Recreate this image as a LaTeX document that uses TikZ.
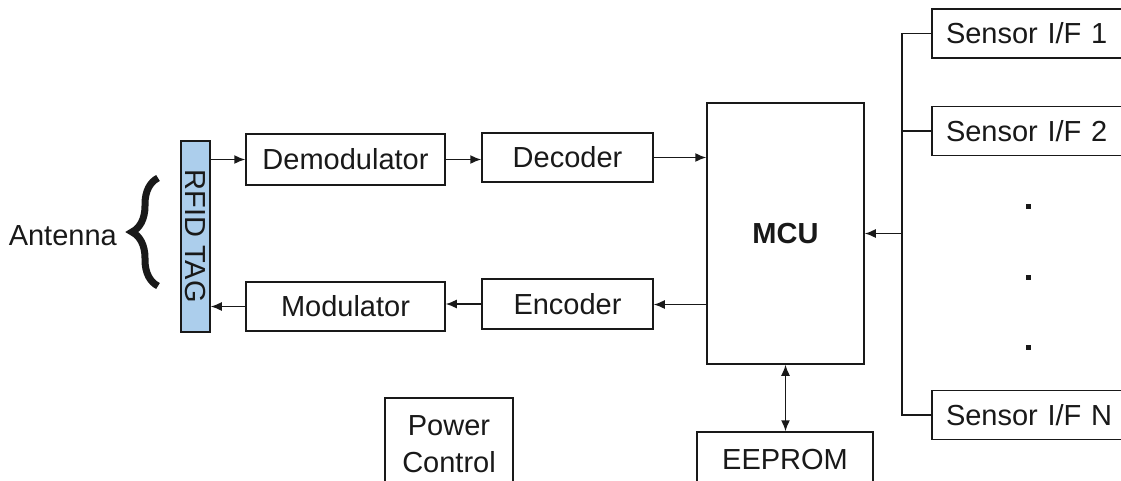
\documentclass[tikz,border=0pt]{standalone}
\usepackage{fontspec}
\setmainfont{Liberation Sans}
\usetikzlibrary{arrows.meta,decorations.pathreplacing}
\definecolor{tagblue}{RGB}{172,206,236}
\definecolor{ink}{RGB}{25,25,25}
\tikzset{
  box/.style={draw=ink, line width=1.5pt, fill=white, inner sep=0pt, font=\fontsize{29}{37}\selectfont, text=ink},
  arr/.style={draw=ink, line width=1.5pt, -{Latex[length=11pt,width=9pt]}},
  darr/.style={draw=ink, line width=1.5pt, {Latex[length=11pt,width=9pt]}-{Latex[length=11pt,width=9pt]}},
  wire/.style={draw=ink, line width=1.5pt},
  sensor/.style={box, minimum width=210pt, minimum height=49pt, text width=182pt, align=left, inner xsep=14pt},
  dotm/.style={fill=ink, minimum size=5pt, inner sep=0pt},
  lbl/.style={font=\fontsize{29}{37}\selectfont, text=ink, inner sep=0pt}
}
\begin{document}
\begin{tikzpicture}[x=1pt,y=-1pt]
\useasboundingbox (0,0) rectangle (1121,480);
\clip (0,0) rectangle (1121,480);
\fill[white] (0,0) rectangle (1121,480);

% RFID tag
\node[box, fill=tagblue, minimum width=29pt, minimum height=191pt] (tag) at (195.5,236.5) {};
\node[lbl, rotate=-90] (tagtxt) at (195.5,236) {RFID TAG};

% Antenna + brace
\node[lbl, anchor=east] (ant) at (117,236) {Antenna};
\coordinate (bb) at (158,286);
\coordinate (bt) at (158,178);
\draw[ink, line width=7pt, decorate, decoration={brace, amplitude=26pt}] (bb) -- (bt);

% receive chain
\node[box, minimum width=199pt, minimum height=51pt] (demod) at (345.5,159.5) {Demodulator};
\node[box, minimum width=171pt, minimum height=49pt] (dec) at (567.5,157.5) {Decoder};
% transmit chain
\node[box, minimum width=199pt, minimum height=49pt] (mod) at (345.5,306.5) {Modulator};
\node[box, minimum width=171pt, minimum height=50pt] (enc) at (567.5,304) {Encoder};

% MCU
\node[box, minimum width=157pt, minimum height=261pt, font=\fontsize{29}{37}\selectfont\bfseries] (mcu) at (785.5,233.5) {MCU};

% EEPROM and power
\node[box, minimum width=176pt, minimum height=56pt] (eep) at (785,460) {EEPROM};
\node[box, minimum width=128pt, minimum height=92pt, align=center] (pwr) at (449,444) {Power\\Control};

% sensors
\node[sensor] (s1) at (1037,33.5) {Sensor I/F 1};
\node[sensor] (s2) at (1037,131) {Sensor I/F 2};
\node[sensor] (sn) at (1037,415) {Sensor I/F N};
\node[dotm] (d1) at (1028,206) {};
\node[dotm] (d2) at (1028,277) {};
\node[dotm] (d3) at (1028,347) {};

% bus
\coordinate (bus) at (902,0);
\draw[wire] (s1.west) -- (s1.west -| bus) -- (sn.west -| bus) -- (sn.west);
\draw[wire] (s2.west) -- (s2.west -| bus);
\draw[arr] (mcu.east -| bus) -- (mcu.east);

% connectors
\draw[arr] (tag.east |- demod.west) -- (demod.west);
\draw[arr] (demod.east) -- (demod.east -| dec.west);
\draw[arr] (dec.east) -- (dec.east -| mcu.west);
\draw[arr] ([yshift=-0.5pt]enc.east -| mcu.west) -- ([yshift=-0.5pt]enc.east);
\draw[arr] (enc.west) -- (enc.west -| mod.east);
\draw[arr] (mod.west) -- (mod.west -| tag.east);
\draw[darr] (mcu.south) -- (mcu.south |- eep.north);
\end{tikzpicture}
\end{document}
